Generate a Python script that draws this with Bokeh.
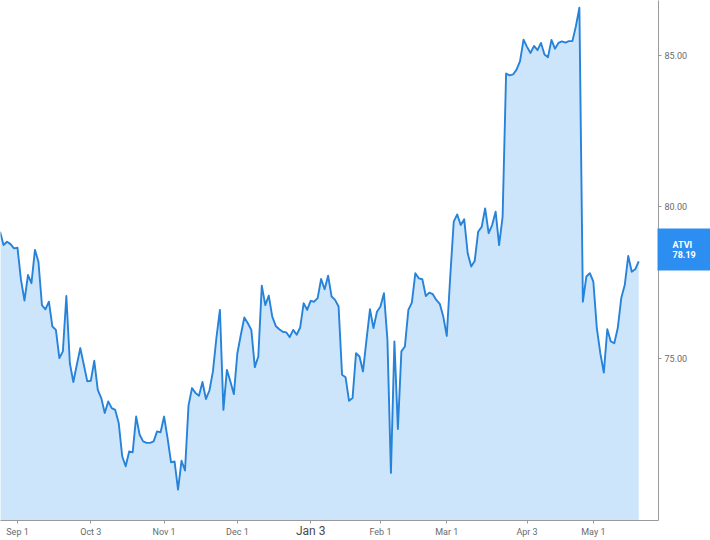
from bokeh.plotting import figure
from bokeh.models import Range1d, FixedTicker, LinearAxis, ColumnDataSource
from bokeh.embed import file_html
from bokeh.resources import INLINE

symbol = "ATVI"
start_day = -5  # trading-day index (0 = Sep 1)
prices = [
    79.17, 78.73, 78.84, 78.76, 78.62, 78.64, 77.58, 76.90, 77.74, 77.47,
    78.57, 78.18, 76.75, 76.61, 76.86, 76.04, 75.93, 75.00, 75.22, 77.05,
    74.83, 74.21, 74.78, 75.33, 74.78, 74.23, 74.25, 74.91, 73.95, 73.68,
    73.19, 73.57, 73.35, 73.29, 72.86, 71.76, 71.43, 71.92, 71.89, 73.07,
    72.47, 72.25, 72.20, 72.20, 72.25, 72.58, 72.55, 73.07, 72.36, 71.56,
    71.59, 70.66, 71.61, 71.29, 73.43, 74.01, 73.85, 73.76, 74.21, 73.65,
    73.93, 74.56, 75.67, 76.59, 73.29, 74.61, 74.23, 73.81, 75.16, 75.77,
    76.34, 76.15, 75.93, 74.70, 75.05, 77.39, 76.75, 77.06, 76.37, 76.06,
    75.95, 75.87, 75.85, 75.69, 75.93, 75.77, 76.01, 76.81, 76.59, 76.89,
    76.86, 76.98, 77.61, 77.27, 77.72, 77.03, 76.92, 76.70, 74.45, 74.37,
    73.59, 73.68, 75.16, 75.05, 74.56, 75.60, 76.61, 75.99, 76.53, 76.70,
    77.14, 75.60, 71.21, 75.55, 72.66, 75.22, 75.38, 76.59, 76.83, 77.80,
    77.63, 77.60, 77.05, 77.16, 77.11, 76.92, 76.79, 76.37, 75.73, 77.70,
    79.50, 79.74, 79.39, 79.58, 78.46, 78.02, 78.20, 79.17, 79.33, 79.94,
    79.12, 79.39, 79.83, 78.73, 79.66, 84.39, 84.33, 84.36, 84.52, 84.80,
    85.51, 85.27, 85.07, 85.30, 85.16, 85.40, 85.02, 84.93, 85.50, 85.21,
    85.40, 85.45, 85.41, 85.46, 85.46, 85.95, 86.56, 76.86, 77.69, 77.80,
    77.52, 75.99, 75.16, 74.52, 75.95, 75.55, 75.49, 75.99, 76.98, 77.41,
    78.37, 77.85, 77.93, 78.19,
]
tick_days = [0, 21, 42, 63, 84, 104, 123, 146, 165]
tick_labels = ["Sep 1", "Oct 3", "Nov 1", "Dec 1", "Jan 3", "Feb 1", "Mar 1", "Apr 3", "May 1"]
year_label = "Jan 3"
y_ticks = [75, 80, 85]

days = list(range(start_day, start_day + len(prices)))
last_price = prices[-1]

LINE = "#2783d9"
FILL = "#cde5fb"
AXIS = "#9a9a9a"
TEXT = "#6a6a6a"
BADGE = "#2b8ef0"
FONT = "Roboto"

x0, x1 = -4.87, 183.67
y0, y1 = 69.64, 86.80
FRAME_H = 521
px_per_unit = FRAME_H / (y1 - y0)

src = ColumnDataSource(dict(day=days, price=prices, base=[y0 - 5] * len(prices)))

p = figure(width=710, height=540,
           x_range=Range1d(x0, x1), y_range=Range1d(y0, y1),
           output_backend="svg", toolbar_location=None,
           y_axis_location="right",
           min_border_left=0, min_border_top=0,
           min_border_right=52, min_border_bottom=19)
p.outline_line_color = None
p.background_fill_color = "white"
p.border_fill_color = "white"
p.xgrid.grid_line_color = None
p.ygrid.grid_line_color = None

p.varea(x="day", y1="base", y2="price", source=src, fill_color=FILL, fill_alpha=1.0)
p.line(x="day", y="price", source=src, line_color=LINE, line_width=1.9, line_join="round")

# --- bottom date axis: ticks + month labels
xa = p.xaxis[0]
xa.ticker = FixedTicker(ticks=tick_days)
xa.major_label_overrides = {d: (" " if l == year_label else l) for d, l in zip(tick_days, tick_labels)}
xa.axis_line_color = AXIS
xa.major_tick_line_color = AXIS
xa.major_tick_in = 0
xa.major_tick_out = 3
xa.minor_tick_line_color = None
xa.major_label_standoff = 3
xa.major_label_text_font = FONT
xa.major_label_text_font_size = "9px"
xa.major_label_text_color = TEXT

# year label ("Jan 3"), larger, pulled up level with the month labels
year_idx = tick_days[tick_labels.index(year_label)]
xa2 = LinearAxis(ticker=FixedTicker(ticks=[year_idx]),
                 major_label_overrides={year_idx: year_label})
xa2.axis_line_color = None
xa2.major_tick_line_color = None
xa2.minor_tick_line_color = None
xa2.major_tick_in = 0
xa2.major_tick_out = 0
xa2.major_label_standoff = -16
xa2.major_label_text_font = FONT
xa2.major_label_text_font_size = "12px"
xa2.major_label_text_color = "#4a4a4a"
p.add_layout(xa2, "below")

# --- right price axis
ya = p.yaxis[0]
ya.ticker = FixedTicker(ticks=y_ticks)
ya.major_label_overrides = {t: f"{t:.2f}" for t in y_ticks}
ya.axis_line_color = AXIS
ya.major_tick_line_color = AXIS
ya.major_tick_in = 0
ya.major_tick_out = 3
ya.minor_tick_line_color = None
ya.major_label_standoff = 3
ya.major_label_text_font = FONT
ya.major_label_text_font_size = "9px"
ya.major_label_text_color = TEXT

# --- last-price badge: a single thick tick forms the box, its label the text
W1 = 33  # width of the price axis band
badge_pos = round(last_price + 11.5 / px_per_unit, 2)
ya2 = LinearAxis(ticker=FixedTicker(ticks=[badge_pos]),
                 major_label_overrides={badge_pos: f"{symbol}\n{last_price:.2f}"})
ya2.axis_line_color = None
ya2.minor_tick_line_color = None
ya2.major_tick_line_color = BADGE
ya2.major_tick_line_width = 42
ya2.major_tick_line_cap = "butt"
ya2.major_tick_in = W1
ya2.major_tick_out = 53 - W1
ya2.major_label_standoff = -38
ya2.major_label_text_font = FONT
ya2.major_label_text_font_size = "9px"
ya2.major_label_text_font_style = "bold"
ya2.major_label_text_color = "white"
ya2.major_label_text_line_height = 1.05
p.add_layout(ya2, "right")

open("out.html", "w").write(file_html(p, INLINE))
